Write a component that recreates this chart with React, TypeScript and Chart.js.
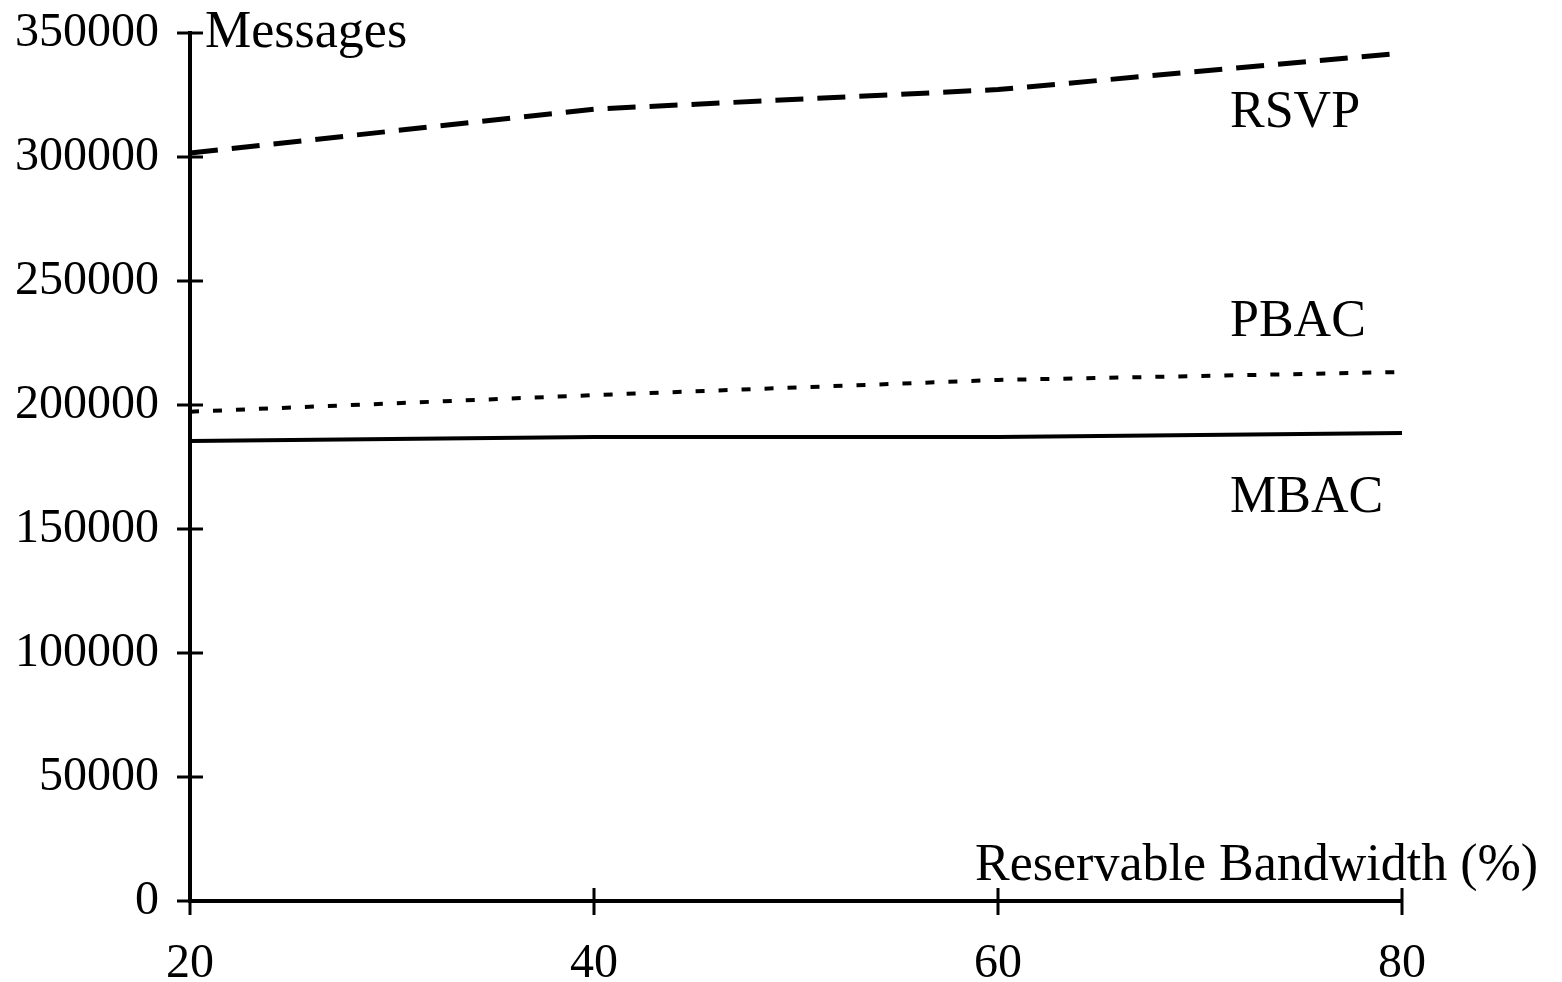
import React, { useEffect, useRef } from "react";
import { Chart, registerables } from "chart.js";

Chart.register(...registerables);

const bandwidth = [20, 40, 60, 80];
const rsvp = [301600, 319300, 327200, 341900];
const pbac = [197300, 204000, 210100, 213300];
const mbac = [185500, 187100, 187100, 188700];

const xTicks = [20, 40, 60, 80];
const yTicks = [0, 50000, 100000, 150000, 200000, 250000, 300000, 350000];

const yTitle = "Messages";
const xTitle = "Reservable Bandwidth (%)";
const seriesNames = ["RSVP", "PBAC", "MBAC"];

const FONT = '"Liberation Serif", "Times New Roman", serif';

const toPoints = (ys: number[]) => bandwidth.map((x, i) => ({ x, y: ys[i] }));

const decorPlugin = {
  id: "decor",
  afterDraw(chart: any) {
    const ctx = chart.ctx;
    const xs = chart.scales.x;
    const ys = chart.scales.y;
    const area = chart.chartArea;
    ctx.save();
    ctx.strokeStyle = "#000";
    ctx.lineWidth = 3;
    // crossing tick marks
    yTicks.forEach((v) => {
      const py = ys.getPixelForValue(v);
      ctx.beginPath();
      ctx.moveTo(area.left - 13, py);
      ctx.lineTo(area.left + 13, py);
      ctx.stroke();
    });
    xTicks.forEach((v) => {
      const px = xs.getPixelForValue(v);
      ctx.beginPath();
      ctx.moveTo(px, area.bottom - 13);
      ctx.lineTo(px, area.bottom + 14);
      ctx.stroke();
    });
    // texts
    ctx.fillStyle = "#000";
    ctx.font = `52px ${FONT}`;
    ctx.textBaseline = "alphabetic";
    ctx.textAlign = "left";
    ctx.fillText(yTitle, area.left + 15, area.top + 14);
    ctx.fillText(xTitle, area.left + 785, area.bottom - 21);
    ctx.fillText(seriesNames[0], area.left + 1040, area.top + 94);
    ctx.fillText(seriesNames[1], area.left + 1040, area.top + 303);
    ctx.fillText(seriesNames[2], area.left + 1040, area.top + 479);
    ctx.restore();
  },
};

export default function App() {
  const ref = useRef<HTMLCanvasElement>(null);
  useEffect(() => {
    document.body.style.margin = "0";
    const chart = new Chart(ref.current!, {
      type: "line",
      data: {
        datasets: [
          {
            label: seriesNames[0],
            data: toPoints(rsvp),
            borderColor: "#000",
            borderWidth: 5,
            borderDash: [28, 14],
            pointRadius: 0,
            fill: false,
          },
          {
            label: seriesNames[1],
            data: toPoints(pbac),
            borderColor: "#000",
            borderWidth: 4,
            borderDash: [9, 14],
            pointRadius: 0,
            fill: false,
          },
          {
            label: seriesNames[2],
            data: toPoints(mbac),
            borderColor: "#000",
            borderWidth: 4,
            pointRadius: 0,
            fill: false,
          },
        ],
      },
      options: {
        responsive: false,
        animation: false,
        layout: { padding: { top: 33, right: 160, left: 0, bottom: 0 } },
        plugins: {
          legend: { display: false },
          tooltip: { enabled: false },
        },
        scales: {
          x: {
            type: "linear",
            min: 20,
            max: 80,
            afterBuildTicks: (s: any) => {
              s.ticks = xTicks.map((v) => ({ value: v }));
            },
            afterFit: (s: any) => {
              s.height = 81;
              s.paddingLeft = 0;
              s.paddingRight = 0;
            },
            grid: { display: false, drawTicks: false },
            border: { display: true, color: "#000", width: 4 },
            ticks: {
              color: "#000",
              font: { family: FONT, size: 48 },
              padding: 35,
              maxRotation: 0,
            },
          },
          y: {
            type: "linear",
            min: 0,
            max: 350000,
            afterBuildTicks: (s: any) => {
              s.ticks = yTicks.map((v) => ({ value: v }));
            },
            afterFit: (s: any) => {
              s.width = 190;
              s.paddingTop = 0;
              s.paddingBottom = 0;
            },
            grid: { display: false, drawTicks: false },
            border: { display: true, color: "#000", width: 4 },
            ticks: {
              color: "#000",
              font: { family: FONT, size: 48 },
              padding: 31,
              callback: (v: any) => String(v),
            },
          },
        },
      },
      plugins: [decorPlugin],
    });
    return () => chart.destroy();
  }, []);
  return (
    <div style={{ width: 1562, height: 982, background: "#fff" }}>
      <canvas ref={ref} width={1562} height={982} style={{ display: "block" }} />
    </div>
  );
}
